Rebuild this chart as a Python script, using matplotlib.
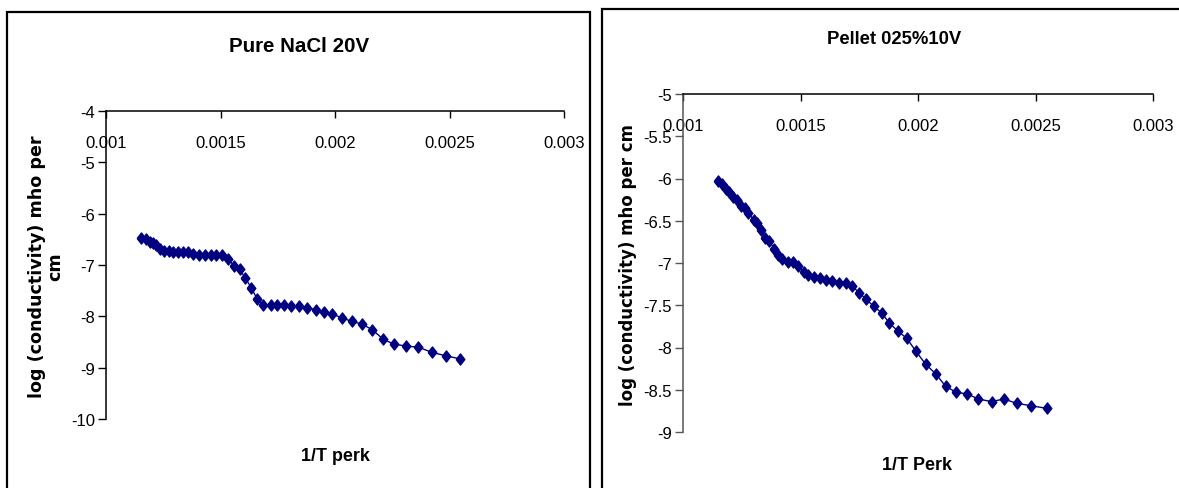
import matplotlib
matplotlib.use("Agg")
import matplotlib.pyplot as plt
from matplotlib import font_manager
from matplotlib.patches import Rectangle
from matplotlib.ticker import FixedLocator, FuncFormatter

# Pure NaCl 20V
nacl_x = [0.001153, 0.001173, 0.001193, 0.001206, 0.001220, 0.001237, 0.001253, 0.001273, 0.001293,
          0.001315, 0.001337, 0.001360, 0.001382, 0.001407, 0.001432, 0.001457, 0.001482, 0.001508,
          0.001533, 0.001558, 0.001583, 0.001608, 0.001635, 0.001661, 0.001687, 0.001719, 0.001745,
          0.001777, 0.001808, 0.001843, 0.001879, 0.001916, 0.001952, 0.001988, 0.002032, 0.002073,
          0.002117, 0.002163, 0.002211, 0.002258, 0.002310, 0.002364, 0.002422, 0.002485, 0.002548]
nacl_y = [-6.47, -6.49, -6.55, -6.57, -6.61, -6.68, -6.72, -6.72, -6.75, -6.75, -6.75, -6.75, -6.79,
          -6.80, -6.80, -6.80, -6.80, -6.80, -6.88, -7.01, -7.08, -7.25, -7.45, -7.67, -7.78, -7.78,
          -7.77, -7.78, -7.80, -7.80, -7.84, -7.87, -7.91, -7.96, -8.03, -8.10, -8.15, -8.26, -8.45,
          -8.54, -8.58, -8.60, -8.70, -8.77, -8.83]

# Pellet 025% 10V
pellet_x = [0.001148, 0.001165, 0.001182, 0.001197, 0.001214, 0.001231, 0.001247, 0.001264, 0.001278,
            0.001302, 0.001314, 0.001331, 0.001349, 0.001367, 0.001388, 0.001406, 0.001423, 0.001445,
            0.001467, 0.001491, 0.001515, 0.001531, 0.001559, 0.001583, 0.001607, 0.001635, 0.001664,
            0.001692, 0.001718, 0.001749, 0.001779, 0.001811, 0.001845, 0.001878, 0.001916, 0.001952,
            0.001990, 0.002033, 0.002075, 0.002118, 0.002163, 0.002210, 0.002257, 0.002313, 0.002365,
            0.002420, 0.002482, 0.002548]
pellet_y = [-6.03, -6.07, -6.12, -6.16, -6.22, -6.26, -6.32, -6.35, -6.41, -6.49, -6.53, -6.61, -6.71,
            -6.74, -6.83, -6.91, -6.95, -6.99, -6.99, -7.04, -7.11, -7.14, -7.17, -7.18, -7.20, -7.21,
            -7.24, -7.24, -7.27, -7.35, -7.43, -7.51, -7.59, -7.71, -7.81, -7.89, -8.04, -8.20, -8.31,
            -8.46, -8.53, -8.55, -8.61, -8.64, -8.61, -8.66, -8.69, -8.72]

x_ticks = [0.001, 0.0015, 0.002, 0.0025, 0.003]
nacl_yticks = [-10, -9, -8, -7, -6, -5, -4]
pellet_yticks = [-9, -8.5, -8, -7.5, -7, -6.5, -6, -5.5, -5]

W, H = 1179, 489
NAVY = "#000080"

names = {f.name for f in font_manager.fontManager.ttflist}
if "Liberation Sans Narrow" in names:
    narrow = ["Liberation Sans Narrow", "DejaVu Sans"]
    k = 1.0
else:
    narrow = ["Liberation Sans", "DejaVu Sans"]
    k = 0.92

diamond = [(-0.78, 0), (0, 1), (0.78, 0), (0, -1), (-0.78, 0)]


def fx(px):
    return px / W


def fy(py):
    return 1 - py / H


fig = plt.figure(figsize=(W / 100, H / 100), dpi=100)

# chart frames
fig.add_artist(Rectangle((fx(7), -0.1), fx(590) - fx(7), fy(13) + 0.1, transform=fig.transFigure,
                         fill=False, lw=1.6, ec="black", clip_on=False))
fig.add_artist(Rectangle((fx(602), -0.1), 0.6, fy(10) + 0.1, transform=fig.transFigure,
                         fill=False, lw=1.6, ec="black", clip_on=False))


def make_panel(rect, xs, ys, yticks, ylim, ycolor):
    ax = fig.add_axes(rect)
    ax.plot(xs, ys, color=NAVY, lw=1.0, marker=diamond, ms=8, mfc=NAVY, mec=NAVY, clip_on=False)
    ax.set_xlim(0.001, 0.003)
    ax.set_ylim(*ylim)
    ax.spines["top"].set_visible(False)
    ax.spines["right"].set_visible(False)
    ax.spines["bottom"].set_position(("axes", 1.0))
    ax.spines["bottom"].set_linewidth(1.1)
    ax.spines["left"].set_linewidth(1.1)
    ax.spines["left"].set_color(ycolor)
    ax.xaxis.set_major_locator(FixedLocator(x_ticks))
    ax.yaxis.set_major_locator(FixedLocator(yticks))
    ax.xaxis.set_major_formatter(FuncFormatter(lambda v, p: "%g" % v))
    ax.yaxis.set_major_formatter(FuncFormatter(lambda v, p: "%g" % v))
    ax.tick_params(axis="x", direction="out", length=5, width=1.0, pad=12, color="black")
    ax.tick_params(axis="y", direction="out", length=6, width=1.0, pad=2, color=ycolor)
    for lab in ax.get_xticklabels() + ax.get_yticklabels():
        lab.set_family(narrow)
        lab.set_fontsize(13 * k)
    ax.patch.set_visible(False)
    return ax


make_panel([fx(106), fy(420), fx(564) - fx(106), fy(112) - fy(420)],
           nacl_x, nacl_y, nacl_yticks, (-10, -4), "black")
make_panel([fx(683), fy(433), fx(1153) - fx(683), fy(95) - fy(433)],
           pellet_x, pellet_y, pellet_yticks, (-9, -5), "#555555")

fig.text(fx(299), fy(47), "Pure NaCl 20V", ha="center", va="center", fontsize=16 * k,
         fontweight="bold", family=narrow)
fig.text(fx(894), fy(39), "Pellet 025%10V", ha="center", va="center", fontsize=14.5 * k,
         fontweight="bold", family=narrow)
fig.text(fx(335), fy(457), "1/T perk", ha="center", va="center", fontsize=14 * k,
         fontweight="bold", family=narrow)
fig.text(fx(917), fy(466), "1/T Perk", ha="center", va="center", fontsize=14 * k,
         fontweight="bold", family=narrow)
fig.text(fx(46), fy(267), "log (conductivity) mho per\ncm", ha="center", va="center",
         rotation=90, fontsize=12.6, fontweight="bold", family="DejaVu Sans", linespacing=1.05,
         multialignment="center")
fig.text(fx(628), fy(265), "log (conductivity) mho per cm", ha="center", va="center",
         rotation=90, fontsize=12, fontweight="bold", family="DejaVu Sans")

fig.savefig("out.png", dpi=100)
